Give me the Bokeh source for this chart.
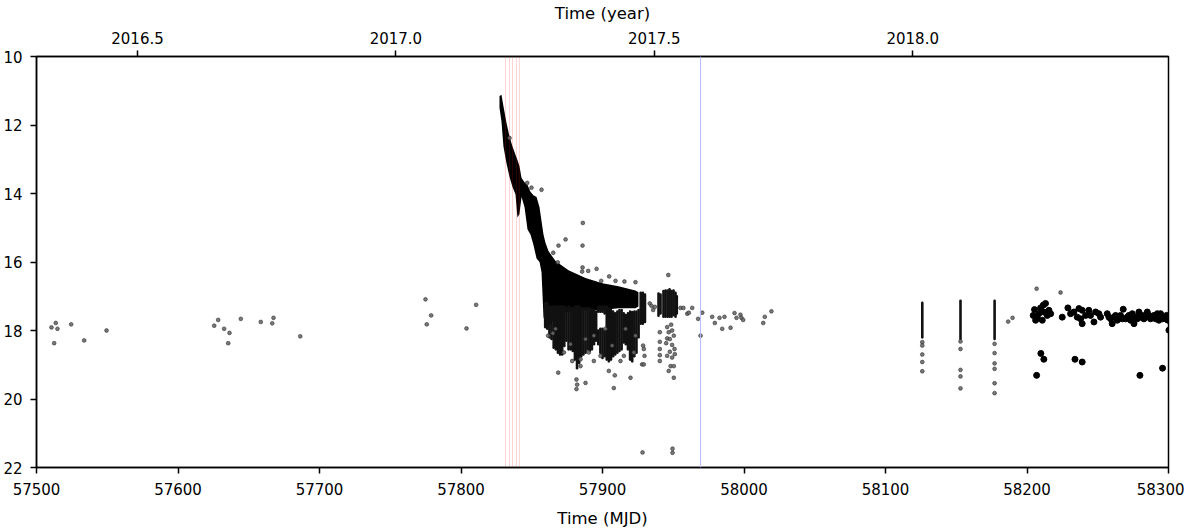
from bokeh.plotting import figure
from bokeh.models import Range1d, LinearAxis, FixedTicker, PrintfTickFormatter, Span
from bokeh.embed import file_html
from bokeh.resources import INLINE

# ---------------- data ----------------
# quiescent points before the outburst
quiet_mjd = [57510.6, 57513.6, 57514.8, 57512.5, 57524.5, 57533.7, 57549.5,
             57625.6, 57628.4, 57632.6, 57636.4, 57635.5, 57644.4, 57658.5, 57666.6,
             57667.5, 57686.4, 57774.9, 57778.9, 57775.8, 57803.9, 57810.7]
quiet_mag = [17.91, 17.78, 17.95, 18.37, 17.82, 18.29, 18.00,
             17.86, 17.69, 17.95, 18.07, 18.37, 17.66, 17.75, 17.79,
             17.63, 18.17, 17.09, 17.56, 17.82, 17.94, 17.25]

# dense outburst decline: nightly envelope (bright / faint edge)
band_mjd = [57827.2, 57828.6, 57830.0, 57832.2, 57834.3, 57836.4, 57838.5, 57839.9,
            57841.3, 57842.8, 57844.9, 57847.0, 57849.1, 57851.2, 57853.4, 57855.5,
            57856.9, 57858.3, 57859.7, 57861.8, 57866.8, 57876.0, 57888.0, 57900.0,
            57911.3, 57923.3, 57925.4]
band_bright = [11.15, 11.12, 11.45, 11.95, 12.34, 12.63, 12.87, 13.02,
               13.20, 13.55, 13.67, 13.75, 13.95, 14.05, 14.10, 14.40,
               14.80, 15.20, 15.44, 15.68, 15.97, 16.24, 16.47, 16.62,
               16.71, 16.83, 16.88]
band_faint = [11.50, 11.90, 12.63, 13.13, 13.52, 13.81, 14.02, 14.70,
              14.60, 14.10, 14.40, 15.05, 15.20, 15.50, 15.90, 16.00,
              16.30, 17.60, 17.90, 17.90, 17.60, 17.45, 17.40, 17.40,
              17.35, 17.35, 17.30]

# dense nights drawn as vertical streaks (mjd, bright edge, faint edge)
night_mjd = [57859.5, 57861.0, 57862.5, 57864.0, 57865.5, 57867.0, 57868.5, 57870.0,
             57871.5, 57873.0, 57874.5, 57876.0, 57877.5, 57879.0, 57880.5, 57882.0,
             57883.5, 57885.0, 57886.5, 57888.0, 57889.5, 57891.0, 57892.5, 57894.0,
             57895.5, 57897.0, 57897.0, 57898.5, 57898.5, 57900.0, 57900.0, 57901.5,
             57901.5, 57903.0, 57904.5, 57906.0, 57907.5, 57909.0, 57910.5, 57912.0,
             57913.5, 57915.0, 57916.5, 57918.0, 57919.5, 57921.0, 57922.5, 57924.0,
             57925.5, 57927.0, 57928.5, 57930.0,
             57939.6, 57941.0, 57943.1, 57944.5, 57946.0, 57947.4, 57948.8, 57950.2,
             57951.6, 57952.5,
             58126.0, 58153.0, 58177.1]
night_bright = [17.20, 17.20, 17.30, 17.30, 17.30, 17.30, 17.30, 17.30,
                17.30, 17.30, 17.35, 17.30, 17.35, 17.35, 17.30, 17.30,
                17.30, 17.35, 17.35, 17.35, 17.35, 17.35, 17.40, 17.40,
                17.45, 17.30, 18.00, 17.30, 17.95, 17.30, 17.95, 17.30,
                18.00, 17.30, 17.36, 17.40, 17.45, 17.50, 17.45, 17.40,
                17.40, 17.50, 17.55, 17.50, 17.45, 17.46, 17.45, 17.45,
                17.40, 16.90, 16.90, 16.95,
                16.92, 16.95, 16.85, 16.83, 16.83, 16.80, 16.85, 16.83,
                16.90, 17.00,
                17.19, 17.13, 17.13]
night_faint = [17.90, 17.95, 18.20, 18.25, 18.50, 18.55, 18.65, 18.70,
               18.70, 18.45, 18.30, 18.55, 18.55, 18.60, 18.85, 19.10,
               18.95, 18.75, 18.70, 18.65, 18.55, 18.60, 18.55, 18.40,
               18.30, 17.45, 18.40, 17.45, 18.65, 17.45, 18.80, 17.50,
               18.75, 18.85, 18.90, 18.85, 18.75, 18.70, 18.65, 18.60,
               18.55, 18.35, 18.40, 18.55, 18.85, 18.90, 18.75, 18.65,
               18.20, 17.80, 17.80, 17.75,
               17.57, 17.50, 17.60, 17.60, 17.60, 17.60, 17.60, 17.55,
               17.60, 17.50,
               18.20, 18.25, 18.25]

# individual points around the outburst
burst_mjd = [57834.3, 57846.8, 57849.8, 57856.9, 57886.1, 57873.9, 57868.9, 57885.9,
             57865.2, 57868.4, 57885.9, 57895.8, 57885.6, 57889.9, 57899.1, 57904.7,
             57909.2, 57915.5, 57923.3, 57946.5, 57933.4, 57934.6, 57935.8, 57937.0,
             57861.6, 57864.9, 57868.7, 57881.6, 57882.1, 57881.6, 57888.0, 57908.0,
             57919.8, 57908.7, 57904.5, 57884.5, 57884.5, 57877.4, 57888.0, 57893.9,
             57902.1, 57916.3, 57923.3, 57912.7, 57898.6, 57893.9, 57928.0, 57928.7,
             57866.8, 57872.7, 57878.6, 57890.3, 57906.8, 57915.1, 57922.2,
             57929.2, 57929.7, 57929.2,
             57940.5, 57940.5, 57940.5, 57940.5, 57940.5,
             57945.7, 57946.8, 57948.5, 57949.2, 57945.7, 57947.6, 57950.4, 57945.0,
             57949.2, 57950.9, 57947.6, 57945.7, 57949.2, 57951.1, 57948.1, 57946.8,
             57950.4, 57950.4,
             57928.3, 57949.5, 57949.5,
             57955.1, 57957.2, 57959.9, 57961.0, 57963.4, 57967.6, 57969.3, 57970.5,
             57977.5, 57979.4, 57982.7, 57984.6, 57986.2, 57990.5, 57993.3, 57994.7,
             57997.5, 57998.2, 57999.4, 58013.6, 58014.7, 58019.4]
burst_mag = [12.38, 13.69, 13.83, 13.89, 14.86, 15.34, 15.52, 15.52,
             15.73, 16.01, 16.16, 16.20, 16.28, 16.26, 16.55, 16.42,
             16.55, 16.57, 16.59, 16.38, 17.21, 17.28, 17.40, 17.31,
             18.15, 18.08, 19.23, 19.43, 19.58, 19.71, 19.53, 19.68,
             19.38, 19.31, 19.18, 18.84, 19.04, 18.40, 18.25, 18.15,
             17.95, 17.95, 18.15, 18.89, 18.74, 18.89, 18.99, 18.44,
             17.95, 18.64, 18.89, 18.64, 18.44, 18.74, 18.64,
             18.99, 18.74, 18.54,
             18.05, 18.33, 18.54, 18.72, 18.89,
             17.90, 18.05, 17.83, 18.00, 18.23, 18.25, 18.15, 18.37,
             18.42, 18.54, 18.62, 18.74, 18.79, 18.69, 19.04, 19.18,
             19.04, 19.38,
             21.56, 21.45, 21.57,
             17.34, 17.34, 17.51, 17.48, 17.34, 17.66, 18.15, 17.48,
             17.60, 17.78, 17.63, 17.95, 17.60, 17.92, 17.49, 17.63,
             17.54, 17.63, 17.69, 17.78, 17.60, 17.44]

# 2018 small points (below the three streaks and nearby)
late_mjd = [58126.0, 58126.0, 58126.0, 58126.0, 58126.0,
            58153.0, 58153.0, 58153.0, 58153.0, 58153.0,
            58177.1, 58177.1, 58177.1, 58177.1, 58177.1, 58177.1,
            58186.7, 58189.8, 58206.8, 58223.7]
late_mag = [18.34, 18.44, 18.70, 18.92, 19.19,
            18.32, 18.54, 19.15, 19.34, 19.69,
            18.39, 18.66, 18.96, 19.12, 19.54, 19.83,
            17.74, 17.63, 16.78, 16.89]

# 2018 large black points
big_mjd = [58204.4, 58205.3, 58207.2, 58208.4, 58209.6, 58210.8, 58211.9, 58213.1,
           58214.3, 58215.5, 58216.7, 58206.1, 58211.5, 58209.8, 58211.9, 58206.8,
           58224.9, 58228.9,
           58230.8, 58233.1, 58235.5, 58236.7, 58237.9, 58239.0, 58239.0, 58241.4,
           58243.7, 58244.9, 58247.3, 58248.5, 58250.8, 58252.0, 58233.9, 58239.0,
           58256.7, 58259.1, 58260.2, 58261.4, 58263.8, 58266.1, 58268.0, 58269.7,
           58272.0, 58274.4, 58275.6, 58276.7, 58279.1, 58281.5, 58283.8, 58285.0,
           58287.3, 58289.7, 58292.1, 58293.2, 58294.4, 58296.8, 58297.9, 58299.6,
           58300.3, 58279.8, 58295.8,
           58257.9, 58262.6, 58264.9, 58267.3, 58270.8, 58273.2, 58277.9, 58280.3,
           58282.6, 58286.2, 58288.5, 58290.9, 58295.6, 58298.6]
big_mag = [17.56, 17.39, 17.64, 17.51, 17.34, 17.70, 17.46, 17.21,
           17.56, 17.41, 17.51, 17.70, 17.26, 18.67, 18.84, 19.31,
           17.61, 17.34,
           17.51, 17.46, 17.61, 17.36, 17.66, 17.80, 17.41, 17.56,
           17.41, 17.56, 17.75, 17.46, 17.51, 17.61, 18.84, 18.92,
           17.51, 17.66, 17.80, 17.61, 17.70, 17.56, 17.38, 17.66,
           17.56, 17.51, 17.80, 17.61, 17.46, 17.56, 17.61, 17.46,
           17.66, 17.56, 17.51, 17.70, 17.51, 17.61, 17.66, 17.70,
           17.99, 19.31, 19.10,
           17.61, 17.56, 17.61, 17.66, 17.61, 17.70, 17.66, 17.61,
           17.66, 17.56, 17.61, 17.66, 17.66, 17.56]

# marked epochs
red_epochs = [57831.4, 57834.3, 57836.4, 57839.2, 57841.3]
blue_epochs = [57969.3]

year_ticks = [2016.5, 2017.0, 2017.5, 2018.0]
mjd_ticks = [57500, 57600, 57700, 57800, 57900, 58000, 58100, 58200, 58300]
mag_ticks = [10, 12, 14, 16, 18, 20, 22]

# ---------------- figure ----------------
FONT = "DejaVu Sans"
p = figure(frame_width=1132, frame_height=411, output_backend="svg",
           toolbar_location=None, x_range=Range1d(57500, 58300),
           y_range=Range1d(22, 10),
           min_border_left=36, min_border_right=16, min_border_top=56,
           min_border_bottom=50)
p.background_fill_color = "white"
p.border_fill_color = "white"
p.outline_line_color = "black"
p.outline_line_width = 1.5
p.xgrid.visible = False
p.ygrid.visible = False

bottom = p.below[0]
bottom.ticker = FixedTicker(ticks=mjd_ticks)
bottom.axis_label = "Time (MJD)"
p.yaxis.ticker = FixedTicker(ticks=mag_ticks)

p.extra_x_ranges = {"year": Range1d(2017 + (57500 - 57754) / 365.25,
                                    2017 + (58300 - 57754) / 365.25)}
top = LinearAxis(x_range_name="year", ticker=FixedTicker(ticks=year_ticks),
                 formatter=PrintfTickFormatter(format="%.1f"),
                 axis_label="Time (year)")
p.add_layout(top, "above")

for ax in [bottom, top, p.left[0]]:
    ax.axis_line_color = "black"
    ax.axis_line_width = 1.5
    ax.major_tick_line_color = "black"
    ax.major_tick_line_width = 1.5
    ax.major_tick_out = 6
    ax.major_tick_in = 0
    ax.minor_tick_out = 0
    ax.minor_tick_in = 0
    ax.major_label_text_font = FONT
    ax.major_label_text_font_size = "15px"
    ax.major_label_text_color = "black"
    ax.major_label_standoff = 5
    ax.axis_label_text_font = FONT
    ax.axis_label_text_font_size = "16.5px"
    ax.axis_label_text_font_style = "normal"
    ax.axis_label_text_color = "black"
    ax.axis_label_standoff = 5

bottom.major_label_standoff = 9
bottom.axis_label_standoff = 11
top.major_label_standoff = 7
top.axis_label_standoff = 6
p.left[0].major_label_standoff = 8

# dense decline envelope
p.varea(x=band_mjd, y1=band_bright, y2=band_faint, fill_color="black")
# dense nights
p.segment(x0=night_mjd, y0=night_bright, x1=night_mjd, y1=night_faint,
          line_color="#111111", line_width=2.6, line_cap="round")

# individual small points
p.scatter(quiet_mjd + burst_mjd + late_mjd, quiet_mag + burst_mag + late_mag,
          size=3.8, fill_color="#6a6a6a", line_color="#222222", line_width=0.6,
          fill_alpha=0.9, line_alpha=0.9)
# large points
p.scatter(big_mjd, big_mag, size=6, fill_color="black", line_color="black")

for e in red_epochs:
    p.add_layout(Span(location=e, dimension="height", line_color="red",
                      line_alpha=0.17, line_width=1))
for e in blue_epochs:
    p.add_layout(Span(location=e, dimension="height", line_color="#b8b8ff",
                      line_alpha=1.0, line_width=1))

open("out.html", "w").write(file_html(p, INLINE))
